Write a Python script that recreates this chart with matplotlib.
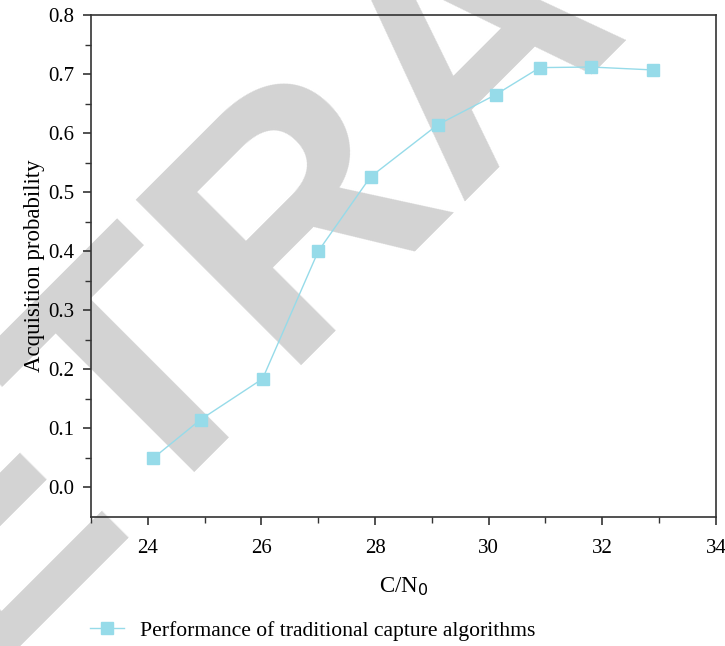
import matplotlib.pyplot as plt

plt.rcParams.update({'font.size': 15, 'font.family': 'Liberation Serif'})

cn0 = [24.1, 24.93, 26.02, 27.0, 27.92, 29.1, 30.12, 30.9, 31.8, 32.9]
prob = [0.05, 0.115, 0.184, 0.40, 0.526, 0.614, 0.665, 0.711, 0.712, 0.707]
label = 'Performance of traditional capture algorithms'
line_color = '#96dbe9'

fig = plt.figure(figsize=(7.25, 6.46), dpi=100)
ax = fig.add_axes([0.1255, 0.1997, 0.862, 0.777])

# watermark behind the data
ax.text(0.66, 0.935, 'RETRACTED', transform=fig.transFigure, rotation=45,
        fontsize=245, fontweight='bold', family='Liberation Sans', color='#d3d3d3',
        ha='center', va='center', zorder=0, clip_on=False)

ax.plot(cn0, prob, color=line_color, marker='s', markersize=9, linewidth=1,
        label=label, zorder=3)

ax.set_xlim(23, 34)
ax.set_ylim(-0.05, 0.8)
ax.set_xticks([24, 26, 28, 30, 32, 34])
ax.set_xticks([23, 25, 27, 29, 31, 33], minor=True)
ax.set_yticks([0.0, 0.1, 0.2, 0.3, 0.4, 0.5, 0.6, 0.7, 0.8])
ax.set_yticks([0.05, 0.15, 0.25, 0.35, 0.45, 0.55, 0.65, 0.75], minor=True)
ax.yaxis.set_major_formatter(plt.FormatStrFormatter('%.1f'))
ax.tick_params(which='both', direction='out', color='#333333', top=False, right=False)
ax.tick_params(which='major', length=6, width=1.2, pad=6)
ax.tick_params(which='minor', length=4, width=1)
ax.tick_params(axis='x', which='major', pad=10)
for s in ax.spines.values():
    s.set_color('#333333')
    s.set_linewidth(1.2)
ax.patch.set_alpha(0)

ax.set_xlabel('C/N$_0$', fontsize=16.5, labelpad=12)
ax.set_ylabel('Acquisition probability', fontsize=16.5, labelpad=2)

fig.legend(loc='lower left', bbox_to_anchor=(0.097, -0.022), frameon=False,
           handlelength=1.6, handletextpad=0.7, fontsize=15.6)

plt.savefig('out.png', dpi=100)
